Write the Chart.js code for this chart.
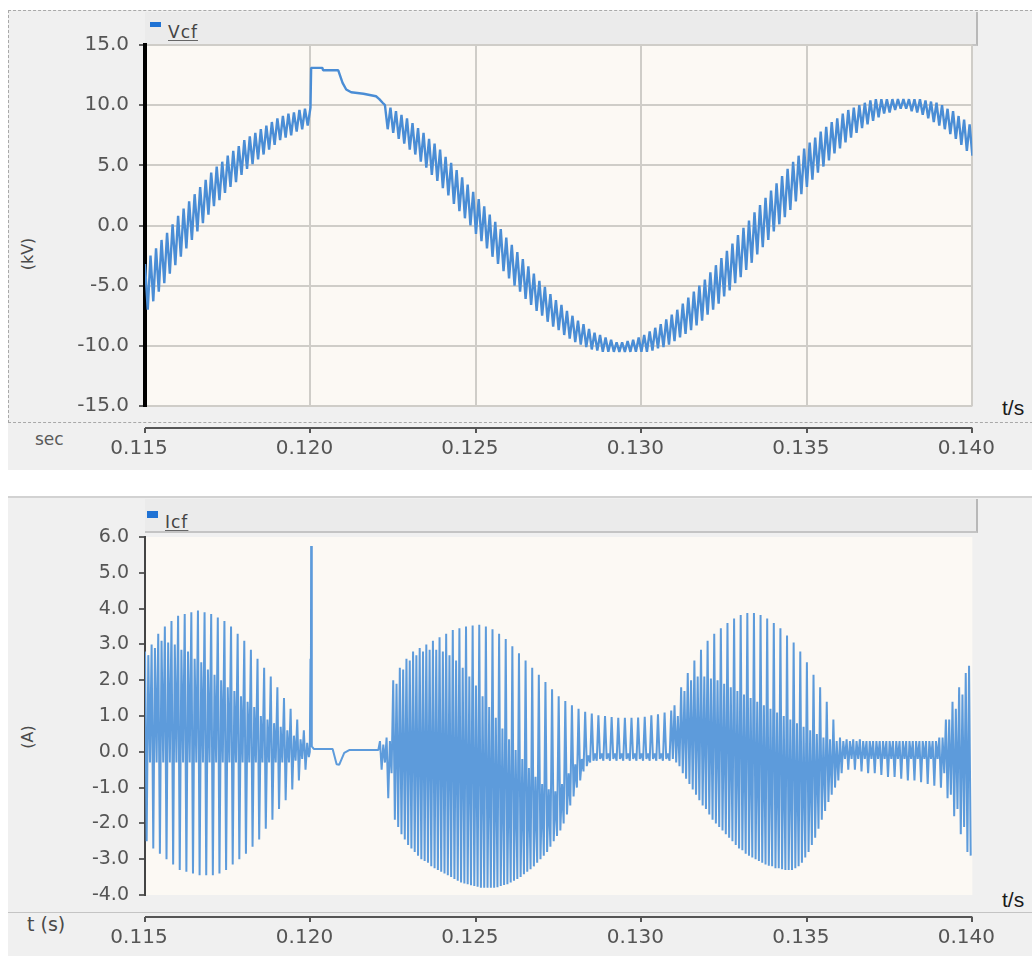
<!DOCTYPE html>
<html>
<head>
<meta charset="utf-8">
<script src="https://cdn.jsdelivr.net/npm/chart.js@4.4.1/dist/chart.umd.min.js"></script>
<style>
  html, body { margin: 0; padding: 0; background: #fff; }
  #page { position: relative; width: 1032px; height: 956px; overflow: hidden; font-family: 'DejaVu Sans', sans-serif; }
  .abs { position: absolute; }
  .panel { background: #f0f0f0; }
  .band { background: #ebebeb; border-bottom: 2px solid #c4c4c4; border-right: 2px solid #b8b8b8; box-sizing: border-box; }
  .txt { white-space: nowrap; line-height: 1; }
  .legend-key { position: absolute; background: #1f72d4; }
  .legend-name { color: #444; font-size: 17px; text-decoration: underline; text-underline-offset: 2px; text-decoration-color: #666; letter-spacing: 1px; }
  .vtitle { color: #4a4a4a; font-size: 16px; transform: translate(-50%, -50%) rotate(-90deg); }
  .unit { color: #5a5a5a; }
  .tslash { font-family: 'Liberation Sans', sans-serif; font-size: 21px; color: #1a1a1a; }
  canvas { position: absolute; left: 0; }
</style>
</head>
<body>
<div id="page">
  <!-- upper panel: Vcf -->
  <div class="abs panel" style="left:8px; top:10px; width:1024px; height:460px;"></div>
  <div class="abs" style="left:8px; top:10px; width:1030px; height:413px; border:1px dashed #a9a9a9; border-right:none; box-sizing:border-box;"></div>
  <div class="abs band" style="left:145px; top:12px; width:833px; height:34px;"></div>
  <div class="legend-key" style="left:150px; top:22px; width:11px; height:5px;"></div>
  <div class="abs txt legend-name" style="left:168px; top:24px;">Vcf</div>
  <div class="abs txt vtitle" style="left:28px; top:254px;">(kV)</div>
  <div class="abs txt unit" style="left:35px; top:431px; font-size:17px;">sec</div>
  <div class="abs txt tslash" style="left:1002px; top:397px;">t/s</div>
  <canvas id="vcfChart" width="1032" height="470" style="top:0; width:1032px; height:470px;"></canvas>

  <!-- lower panel: Icf -->
  <div class="abs panel" style="left:8px; top:496px; width:1024px; height:460px; border-top:2px solid #d2d2d2; box-sizing:border-box;"></div>
  <div class="abs band" style="left:145px; top:499px; width:833px; height:34px;"></div>
  <div class="abs" style="left:8px; top:912px; width:1024px; height:1px; background:#c4c4c4;"></div>
  <div class="legend-key" style="left:147px; top:511px; width:11px; height:7px;"></div>
  <div class="abs txt legend-name" style="left:165px; top:514px;">Icf</div>
  <div class="abs txt vtitle" style="left:28px; top:737px;">(A)</div>
  <div class="abs txt unit" style="left:27px; top:915px; font-size:19px; color:#4a4a4a;">t (s)</div>
  <div class="abs txt tslash" style="left:1002px; top:889px;">t/s</div>
  <canvas id="icfChart" width="1032" height="461" style="top:495px; width:1032px; height:461px;"></canvas>
</div>

<script>
// ---- shared axis ticks ----
const timeTicks = [0.115, 0.120, 0.125, 0.130, 0.135, 0.140];
const vcfTicks = [-15, -10, -5, 0, 5, 10, 15];
const icfTicks = [-4, -3, -2, -1, 0, 1, 2, 3, 4, 5, 6];

// ---- Vcf (kV): switching ripple, each entry is one stroke (peak, trough) ----
const vcfStep = 1 / 6000;
const vcfRiseStart = 0.115;
const vcfRiseHigh = [-3.2, -2.5, -1.9, -1.2, -0.6, 0.1, 0.8, 1.4, 2.0, 2.6,
  3.2, 3.8, 4.4, 4.9, 5.3, 5.8, 6.2, 6.6, 7.1, 7.4,
  7.7, 8.0, 8.3, 8.6, 8.9, 9.1, 9.3, 9.4, 9.6, 9.7];
const vcfRiseLow = [-7.0, -6.3, -5.5, -4.8, -4.0, -3.3, -2.6, -1.9, -1.2, -0.5,
  0.2, 0.9, 1.6, 2.1, 2.7, 3.2, 3.6, 4.2, 4.7, 5.1,
  5.5, 5.9, 6.3, 6.7, 7.1, 7.3, 7.5, 7.8, 8.0, 8.3];

// fault interval: converter blocked, capacitor voltage steps up then decays
const vcfFaultTime = [0.12000, 0.12002, 0.12036, 0.12038, 0.12084, 0.12097, 0.12108, 0.12123, 0.12160, 0.12198, 0.12208, 0.12218];
const vcfFaultValue = [9.8, 13.1, 13.1, 12.9, 12.9, 11.85, 11.3, 11.07, 10.95, 10.74, 10.5, 10.2];

const vcfSwingStart = 0.12225;
const vcfSwingHigh = [10.0, 9.8, 9.5, 9.2, 8.9, 8.5, 8.1, 7.7, 7.2, 6.8,
  6.3, 5.7, 5.2, 4.6, 4.0, 3.4, 2.8, 2.2, 1.6, 0.9,
  0.3, -0.3, -1.0, -1.6, -2.2, -2.8, -3.4, -4.0, -4.6, -5.1,
  -5.7, -6.2, -6.6, -7.1, -7.5, -7.9, -8.2, -8.6, -8.9, -9.1,
  -9.3, -9.5, -9.7, -9.7, -9.6, -9.5, -9.3, -9.1, -8.8, -8.5,
  -8.2, -7.8, -7.4, -7.0, -6.5, -6.0, -5.5, -5.0, -4.5, -3.9,
  -3.3, -2.7, -2.1, -1.5, -0.8, -0.2, 0.4, 1.1, 1.7, 2.3,
  2.9, 3.5, 4.1, 4.7, 5.3, 5.8, 6.4, 6.9, 7.3, 7.8,
  8.2, 8.6, 8.9, 9.3, 9.6, 9.8, 10.0, 10.2, 10.4, 10.5,
  10.5, 10.5, 10.5, 10.5, 10.5, 10.5, 10.5, 10.5, 10.4, 10.3,
  10.2, 10.0, 9.7, 9.5, 9.1, 8.8, 8.4];
const vcfSwingLow = [8.0, 7.7, 7.2, 6.8, 6.3, 5.9, 5.3, 4.8, 4.2, 3.7,
  3.1, 2.5, 1.8, 1.2, 0.6, 0.0, -0.7, -1.3, -1.9, -2.6,
  -3.2, -3.8, -4.4, -5.0, -5.5, -6.1, -6.6, -7.1, -7.5, -8.0,
  -8.4, -8.7, -9.1, -9.4, -9.7, -9.9, -10.1, -10.3, -10.4, -10.5,
  -10.5, -10.5, -10.5, -10.5, -10.5, -10.5, -10.5, -10.5, -10.4, -10.2,
  -10.1, -9.9, -9.6, -9.3, -9.0, -8.7, -8.3, -7.9, -7.4, -7.0,
  -6.5, -5.9, -5.4, -4.8, -4.3, -3.7, -3.1, -2.4, -1.8, -1.2,
  -0.5, 0.1, 0.7, 1.3, 2.0, 2.6, 3.2, 3.8, 4.4, 4.9,
  5.4, 6.0, 6.4, 6.9, 7.3, 7.7, 8.1, 8.4, 8.7, 9.0,
  9.3, 9.4, 9.6, 9.7, 9.7, 9.5, 9.4, 9.2, 8.9, 8.6,
  8.3, 8.0, 7.6, 7.2, 6.7, 6.2, 5.8];

// ---- Icf (A): strokes alternate between the outer envelope and the dense inner band ----
const icfStep = 0.0001;
const icfLobeAStart = 0.1150;
const icfLobeAHigh = [2.8, 2.7, 3.0, 2.9, 3.3, 3.1, 3.5, 3.05, 3.65, 3.0,
  3.8, 2.85, 3.85, 2.8, 3.9, 2.6, 3.95, 2.5, 3.9, 2.3,
  3.85, 2.15, 3.75, 2.0, 3.65, 1.8, 3.5, 1.7, 3.3, 1.55,
  3.1, 1.4, 2.85, 1.25, 2.6, 1.0, 2.35, 0.9, 2.1, 0.8,
  1.8, 0.7, 1.5, 0.6, 1.2, 0.45, 0.9, 0.35, 0.6, 0.25];
const icfLobeALow = [-2.5, -0.3, -2.7, -0.3, -2.85, -0.3, -3.0, -0.3, -3.15, -0.3,
  -3.3, -0.3, -3.35, -0.3, -3.4, -0.3, -3.45, -0.3, -3.45, -0.3,
  -3.45, -0.3, -3.4, -0.3, -3.3, -0.3, -3.15, -0.3, -3.0, -0.3,
  -2.85, -0.3, -2.65, -0.3, -2.45, -0.3, -2.15, -0.3, -1.9, -0.3,
  -1.6, -0.3, -1.35, -0.3, -1.05, -0.25, -0.8, -0.2, -0.5, -0.15];

// fault interval: inrush spike, then near-zero current with a small dip
const icfFaultTime = [0.11998, 0.12000, 0.12001, 0.12002, 0.12004, 0.12010, 0.12067, 0.12079, 0.12087, 0.12102, 0.12117, 0.12205];
const icfFaultValue = [0.0, 2.6, 0.3, 5.75, 0.15, 0.08, 0.08, -0.35, -0.36, -0.03, 0.05, 0.05];

const icfLobeCStart = 0.1221;
const icfLobeCHigh = [0.3, 0.2, 0.4, 0.3, 2.0, 1.9, 2.35, 2.3, 2.6, 2.55,
  2.8, 2.7, 2.9, 2.8, 3.0, 2.85, 3.1, 2.85, 3.2, 2.8,
  3.3, 2.7, 3.4, 2.55, 3.45, 2.35, 3.5, 2.1, 3.53, 1.85,
  3.55, 1.55, 3.5, 1.25, 3.42, 0.95, 3.3, 0.65, 3.15, 0.35,
  2.95, 0.05, 2.75, -0.2, 2.55, -0.45, 2.35, -0.7, 2.15, -0.9,
  1.95, -1.05, 1.75, -1.1, 1.55, -0.9, 1.42, -0.6, 1.3, -0.35,
  1.2, -0.2, 1.12, -0.1, 1.07, -0.05, 1.02, -0.05, 1.0, -0.05,
  0.97, -0.05, 0.95, -0.05, 0.95, -0.05, 0.95, -0.05, 0.96, -0.05,
  0.98, -0.05, 1.02, -0.05, 1.05, -0.05, 1.1, -0.05, 1.15];
const icfLobeCLow = [-0.5, -0.3, -1.3, -0.6, -1.9, -2.1, -2.3, -2.45, -2.6, -2.7,
  -2.8, -2.9, -3.0, -3.05, -3.1, -3.2, -3.25, -3.3, -3.35, -3.4,
  -3.45, -3.5, -3.55, -3.6, -3.65, -3.68, -3.7, -3.73, -3.75, -3.77,
  -3.8, -3.8, -3.8, -3.8, -3.8, -3.78, -3.75, -3.72, -3.7, -3.65,
  -3.6, -3.55, -3.5, -3.42, -3.35, -3.28, -3.2, -3.1, -3.0, -2.9,
  -2.8, -2.65, -2.5, -2.35, -2.2, -2.0, -1.75, -1.5, -1.25, -1.0,
  -0.8, -0.55, -0.4, -0.3, -0.25, -0.25, -0.2, -0.25, -0.2, -0.25,
  -0.2, -0.25, -0.2, -0.25, -0.2, -0.25, -0.2, -0.25, -0.2, -0.25,
  -0.2, -0.25, -0.2, -0.25, -0.2, -0.25, -0.2, -0.25, -0.2];

const icfLobeDStart = 0.1310;
const icfLobeDHigh = [1.3, 1.0, 1.8, 1.7, 2.2, 2.0, 2.55, 2.1, 2.85, 2.1,
  3.1, 2.05, 3.3, 2.0, 3.45, 1.9, 3.6, 1.8, 3.72, 1.7,
  3.82, 1.6, 3.88, 1.5, 3.88, 1.4, 3.82, 1.3, 3.72, 1.2,
  3.6, 1.1, 3.45, 1.0, 3.25, 0.9, 3.05, 0.8, 2.8, 0.7,
  2.5, 0.6, 2.15, 0.5, 1.8, 0.4, 1.4, 0.35, 0.9, 0.3,
  0.4, 0.3, 0.35, 0.3, 0.35, 0.3, 0.35, 0.3, 0.3, 0.3,
  0.3, 0.3, 0.3, 0.3, 0.3, 0.3, 0.3, 0.3, 0.3, 0.3,
  0.3, 0.3, 0.3, 0.3, 0.3, 0.3, 0.3, 0.3, 0.3, 0.3,
  0.4, 0.4, 0.9, 0.9, 1.4, 1.2, 1.8, 1.6, 2.2, 2.4];
const icfLobeDLow = [-0.3, -0.4, -0.6, -0.75, -0.9, -1.05, -1.2, -1.35, -1.5, -1.6,
  -1.75, -1.9, -2.0, -2.1, -2.2, -2.3, -2.4, -2.5, -2.6, -2.7,
  -2.75, -2.85, -2.9, -2.95, -3.0, -3.05, -3.1, -3.15, -3.18, -3.2,
  -3.25, -3.25, -3.28, -3.3, -3.3, -3.3, -3.25, -3.2, -3.1, -2.95,
  -2.8, -2.6, -2.4, -2.15, -1.9, -1.65, -1.4, -1.2, -1.0, -0.8,
  -0.6, -0.2, -0.5, -0.2, -0.5, -0.2, -0.55, -0.2, -0.6, -0.2,
  -0.6, -0.2, -0.65, -0.2, -0.7, -0.2, -0.7, -0.2, -0.75, -0.2,
  -0.8, -0.2, -0.8, -0.2, -0.85, -0.2, -0.9, -0.2, -0.95, -0.2,
  -1.0, -0.6, -1.3, -1.2, -1.8, -1.6, -2.3, -2.1, -2.8, -2.9];

// cursor mark left on the current trace
const icfCursorTime = [0.1350, 0.1350];
const icfCursorValue = [0.25, -0.2];

// ---- point builders ----
function strokes(start, step, highs, lows) {
  const pts = [];
  highs.forEach((h, i) => {
    const t = start + i * step;
    pts.push({ x: t, y: h });
    pts.push({ x: t + step / 2, y: lows[i] });
  });
  return pts;
}
function trace(times, values) {
  return times.map((t, i) => ({ x: t, y: values[i] }));
}

const vcfPoints = [
  ...strokes(vcfRiseStart, vcfStep, vcfRiseHigh, vcfRiseLow),
  ...trace(vcfFaultTime, vcfFaultValue),
  ...strokes(vcfSwingStart, vcfStep, vcfSwingHigh, vcfSwingLow)
];
const icfPoints = [
  ...strokes(icfLobeAStart, icfStep, icfLobeAHigh, icfLobeALow),
  ...trace(icfFaultTime, icfFaultValue),
  ...strokes(icfLobeCStart, icfStep, icfLobeCHigh, icfLobeCLow),
  ...strokes(icfLobeDStart, icfStep, icfLobeDHigh, icfLobeDLow)
];

// ---- plugins ----
const plotBackground = {
  id: 'plotBackground',
  beforeDraw(chart, args, opts) {
    const { ctx, chartArea: a } = chart;
    ctx.save();
    ctx.fillStyle = opts.color;
    ctx.fillRect(a.left, a.top, a.width, a.height);
    ctx.restore();
  }
};
// time ruler drawn a little below the plot, ticks hanging down
const timeRuler = {
  id: 'timeRuler',
  afterDraw(chart, args, opts) {
    const { ctx, chartArea: a } = chart;
    const xs = chart.scales.x;
    const y0 = a.bottom + opts.gap;
    ctx.save();
    ctx.strokeStyle = opts.color;
    ctx.lineWidth = 2;
    ctx.beginPath();
    ctx.moveTo(xs.left, y0);
    ctx.lineTo(xs.right, y0);
    xs.ticks.forEach(t => {
      const px = Math.round(xs.getPixelForValue(t.value));
      ctx.moveTo(px, y0);
      ctx.lineTo(px, y0 + opts.tick);
    });
    ctx.stroke();
    ctx.restore();
  }
};

const FONT = "'DejaVu Sans', sans-serif";
const LABEL = '#555555';
const GRID = '#cfcdc8';

function traceSet(points, color, width) {
  return {
    data: points, borderColor: color, borderWidth: width,
    pointRadius: 0, tension: 0, borderJoinStyle: 'bevel', fill: false
  };
}

function buildChart(id, datasets, yTicks, yOpts, padTop, xHeight) {
  return new Chart(document.getElementById(id), {
    type: 'line',
    data: { datasets },
    options: {
      responsive: false,
      animation: false,
      parsing: false,
      normalized: true,
      devicePixelRatio: 1,
      layout: { padding: { top: padTop, right: 56, left: 0, bottom: 0 } },
      plugins: {
        legend: { display: false },
        tooltip: { enabled: false },
        plotBackground: { color: '#fcf9f4' },
        timeRuler: { gap: 22, tick: 5, color: '#555555' }
      },
      scales: {
        x: {
          type: 'linear', min: 0.115, max: 0.140,
          afterBuildTicks: s => { s.ticks = timeTicks.map(v => ({ value: v })); },
          afterFit: s => { s.height = xHeight; },
          grid: { display: yOpts.gridOn, color: GRID, lineWidth: 2, drawTicks: false },
          border: { display: false },
          ticks: {
            padding: 31, labelOffset: -6, color: LABEL, maxRotation: 0, autoSkip: false,
            font: { family: FONT, size: 20 },
            callback: v => v.toFixed(3)
          }
        },
        y: {
          min: yTicks[0], max: yTicks[yTicks.length - 1],
          afterBuildTicks: s => { s.ticks = yTicks.map(v => ({ value: v })); },
          afterFit: s => { s.width = 145; },
          grid: {
            drawOnChartArea: yOpts.gridOn, color: GRID, lineWidth: 2,
            tickColor: '#333333', tickLength: 6, tickWidth: 1.5
          },
          border: { color: yOpts.borderColor, width: yOpts.borderWidth },
          ticks: {
            padding: 10, color: LABEL,
            font: { family: FONT, size: yOpts.fontSize },
            callback: v => v.toFixed(1)
          }
        }
      }
    },
    plugins: [plotBackground, timeRuler]
  });
}

buildChart('vcfChart', [traceSet(vcfPoints, '#4a8dd5', 2.4)], vcfTicks,
  { gridOn: true, borderColor: '#000000', borderWidth: 4, fontSize: 20 }, 45, 64);
buildChart('icfChart', [
    traceSet(icfPoints, '#5d9bdb', 2),
    traceSet(trace(icfCursorTime, icfCursorValue), '#1d2f5a', 2)
  ], icfTicks,
  { gridOn: false, borderColor: '#444444', borderWidth: 2, fontSize: 19 }, 42, 61);
</script>
</body>
</html>
